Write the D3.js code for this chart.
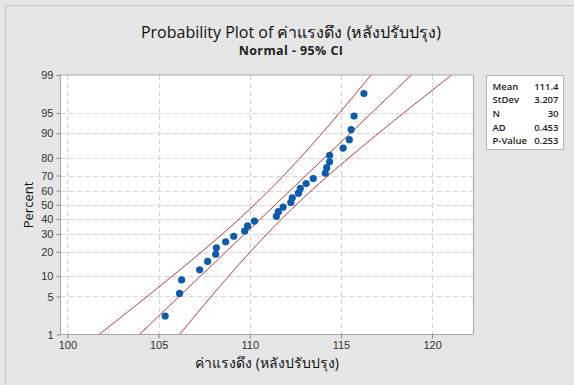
<!DOCTYPE html>
<html>
<head>
<meta charset="utf-8">
<script src="https://cdn.jsdelivr.net/npm/d3@7"></script>
<style>
    body { margin: 0; background: #e6e6e6; }
    svg { display: block; font-family: "Segoe UI", "Open Sans", "Noto Sans", sans-serif; }
    .grid line { stroke: #d4d4d4; stroke-dasharray: 5,3; }
    .axis path, .axis line { stroke: #8c8c8c; }
    .axis text { fill: #333; font-size: 11px; }
</style>
</head>
<body>
<svg id="svg" width="574" height="385"></svg>
<script>

var values = [105.36, 106.15, 106.26, 107.25, 107.69, 108.13, 108.17, 108.68, 109.12, 109.72,
    109.88, 110.26, 111.46, 111.57, 111.83, 112.25, 112.33, 112.67, 112.77, 113.09,
    113.48, 114.14, 114.22, 114.38, 114.38, 115.12, 115.46, 115.56, 115.72, 116.26];

var percentTicks = [1, 5, 10, 20, 30, 40, 50, 60, 70, 80, 90, 95, 99],
    xTicks = [100, 105, 110, 115, 120];

var statLabels = ['Mean', 'StDev', 'N', 'AD', 'P-Value'],
    statValues = ['111.4', '3.207', '30', '0.453', '0.253'];

var mean = 111.4, stdev = 3.207, n = 30;

var frame = {left: 60.5, right: 473.5, top: 75, bottom: 334.5};

// inverse normal cdf (Acklam)
function probit(p) {
    var a = [-39.69683028665376, 220.9460984245205, -275.9285104469687, 138.3577518672690, -30.66479806614716, 2.506628277459239],
        b = [-54.47609879822406, 161.5858368580409, -155.6989798598866, 66.80131188771972, -13.28068155288572],
        c = [-0.007784894002430293, -0.3223964580411365, -2.400758277161838, -2.549732539343734, 4.374664141464968, 2.938163982698783],
        d = [0.007784695709041462, 0.3224671290700398, 2.445134137142996, 3.754408661907416],
        q, r;
    if (p < 0.02425) {
        q = Math.sqrt(-2 * Math.log(p));
        return (((((c[0] * q + c[1]) * q + c[2]) * q + c[3]) * q + c[4]) * q + c[5]) /
            ((((d[0] * q + d[1]) * q + d[2]) * q + d[3]) * q + 1);
    }
    if (p > 1 - 0.02425) {
        return -probit(1 - p);
    }
    q = p - 0.5;
    r = q * q;
    return (((((a[0] * r + a[1]) * r + a[2]) * r + a[3]) * r + a[4]) * r + a[5]) * q /
        (((((b[0] * r + b[1]) * r + b[2]) * r + b[3]) * r + b[4]) * r + 1);
}

var $svg = d3.select('#svg');

$svg.append('rect')
    .attr('x', 5.5).attr('y', 5.5)
    .attr('width', 600).attr('height', 400)
    .attr('fill', '#e6e6e6')
    .attr('stroke', '#c4c4c4');

var x = d3.scaleLinear().domain([99.62, 122.27]).range([frame.left, frame.right]),
    zMax = probit(0.99),
    y = d3.scaleLinear().domain([-zMax, zMax]).range([frame.bottom, frame.top]);

function yp(pct) { return y(probit(pct / 100)); }

$svg.append('rect')
    .attr('x', frame.left).attr('y', frame.top)
    .attr('width', frame.right - frame.left)
    .attr('height', frame.bottom - frame.top)
    .attr('fill', '#fff');

var $grid = $svg.append('g').attr('class', 'grid');

$grid.selectAll('line.v')
    .data(xTicks)
    .enter().append('line')
    .attr('x1', function (d) { return Math.round(x(d)) + 0.5; })
    .attr('x2', function (d) { return Math.round(x(d)) + 0.5; })
    .attr('y1', frame.top).attr('y2', frame.bottom);

$grid.selectAll('line.h')
    .data(percentTicks.slice(1, -1))
    .enter().append('line')
    .attr('y1', function (d) { return Math.round(yp(d)) + 0.5; })
    .attr('y2', function (d) { return Math.round(yp(d)) + 0.5; })
    .attr('x1', frame.left).attr('x2', frame.right);

// fitted line and 95% CI bands
var zs = d3.range(-zMax, zMax + 1e-9, zMax / 60),
    k = 1.959964;

function band(sign) {
    return zs.map(function (z) {
        var se = stdev * Math.sqrt(1 / n + z * z / (2 * n));
        return [mean + stdev * z + sign * k * se, z];
    });
}

var line = d3.line()
    .x(function (d) { return x(d[0]); })
    .y(function (d) { return y(d[1]); });

[-1, 0, 1].forEach(function (s) {
    $svg.append('path')
        .attr('d', line(band(s)))
        .attr('fill', 'none')
        .attr('stroke', '#b33232')
        .attr('stroke-width', 1);
});

// points at median ranks
var sorted = values.slice().sort(d3.ascending);
$svg.append('g')
    .selectAll('circle')
    .data(sorted)
    .enter().append('circle')
    .attr('cx', function (d) { return x(d); })
    .attr('cy', function (d, i) { return y(probit((i + 1 - 0.3) / (n + 0.4))); })
    .attr('r', 3.6)
    .attr('fill', '#0b5cad');

$svg.append('rect')
    .attr('x', frame.left).attr('y', frame.top)
    .attr('width', frame.right - frame.left)
    .attr('height', frame.bottom - frame.top)
    .attr('fill', 'none')
    .attr('stroke', '#a8a8a8');

// axes
$svg.append('g')
    .attr('class', 'axis')
    .attr('transform', 'translate(0,' + frame.bottom + ')')
    .call(d3.axisBottom(x).tickValues(xTicks).tickSize(4).tickSizeOuter(0))
    .call(function (g) { g.select('.domain').remove(); });

var yAxis = d3.scaleLinear().domain([-zMax, zMax]).range([frame.bottom, frame.top]);
$svg.append('g')
    .attr('class', 'axis')
    .attr('transform', 'translate(' + frame.left + ',0)')
    .call(d3.axisLeft(yAxis)
        .tickValues(percentTicks.map(function (p) { return probit(p / 100); }))
        .tickFormat(function (d, i) { return percentTicks[i]; })
        .tickSize(4).tickSizeOuter(0))
    .call(function (g) { g.select('.domain').remove(); });

// titles
$svg.append('text')
    .attr('x', 291).attr('y', 38)
    .attr('text-anchor', 'middle')
    .attr('font-size', 16)
    .attr('fill', '#111')
    .text('Probability Plot of ค่าแรงดึง (หลังปรับปรุง)');

$svg.append('text')
    .attr('x', 291).attr('y', 55)
    .attr('text-anchor', 'middle')
    .attr('font-size', 12.5)
    .attr('font-weight', 'bold')
    .attr('letter-spacing', 0.4)
    .attr('fill', '#222')
    .text('Normal - 95% CI');

$svg.append('text')
    .attr('transform', 'translate(33,205) rotate(-90)')
    .attr('text-anchor', 'middle')
    .attr('font-size', 13)
    .attr('fill', '#111')
    .text('Percent');

$svg.append('text')
    .attr('x', 267).attr('y', 368)
    .attr('text-anchor', 'middle')
    .attr('font-size', 14)
    .attr('fill', '#111')
    .text('ค่าแรงดึง (หลังปรับปรุง)');

// stats box
var $stats = $svg.append('g').attr('transform', 'translate(486.5,75.5)');
$stats.append('rect')
    .attr('width', 77).attr('height', 74)
    .attr('fill', '#fff')
    .attr('stroke', '#b4b4b4');

$stats.selectAll('text.lbl')
    .data(statLabels)
    .enter().append('text')
    .attr('x', 6)
    .attr('y', function (d, i) { return 14 + i * 13.7; })
    .attr('font-size', 9.5)
    .attr('font-weight', 600)
    .attr('fill', '#222')
    .text(function (d) { return d; });

$stats.selectAll('text.val')
    .data(statValues)
    .enter().append('text')
    .attr('x', 72)
    .attr('y', function (d, i) { return 14 + i * 13.7; })
    .attr('text-anchor', 'end')
    .attr('font-size', 9.5)
    .attr('font-weight', 600)
    .attr('fill', '#222')
    .text(function (d) { return d; });

</script>
</body>
</html>
